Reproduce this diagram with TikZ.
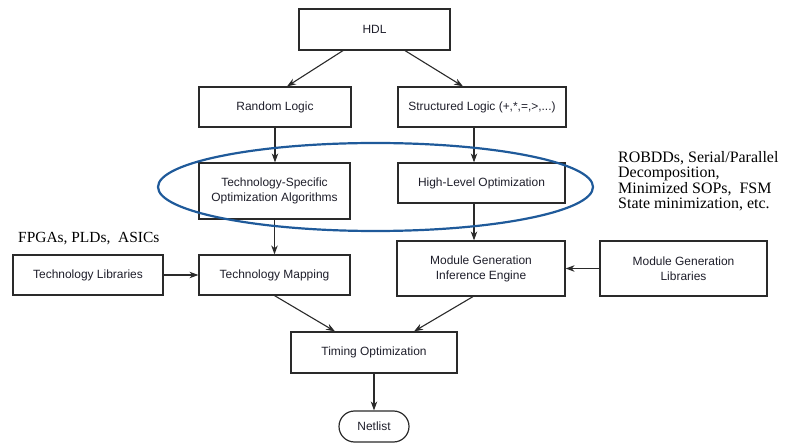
\documentclass[tikz,border=0pt]{standalone}
\usepackage{fontspec}
\setmainfont{Liberation Serif}
\setsansfont{Liberation Sans}
\usetikzlibrary{arrows.meta}
\definecolor{boxline}{HTML}{2A2A2A}
\definecolor{boxtext}{HTML}{1E1E2A}
\definecolor{ringblue}{HTML}{1F5A9A}
\tikzset{
  stage/.style={draw=boxline, line width=1.2bp, inner sep=2bp, align=center,
    text=boxtext, font=\sffamily\fontsize{12}{15}\selectfont},
  flow/.style={draw=boxline, line width=1.1bp, -{Stealth[length=9bp,width=6.5bp]}},
  note/.style={inner sep=0, align=left, text=black,
    font=\rmfamily\fontsize{15.5}{15.5}\selectfont},
  ring/.style={draw=ringblue, line width=2.2bp}
}
\begin{document}
\begin{tikzpicture}[x=1bp,y=-1bp]
\useasboundingbox (0,0) rectangle (785,443);

% processing stages
\node[stage, minimum width=151bp, minimum height=41bp] (hdl) at (374.5,29.5) {HDL};
\node[stage, minimum width=152bp, minimum height=40bp] (rand) at (275,107) {Random Logic};
\node[stage, minimum width=168bp, minimum height=40bp] (struct) at (482,107) {Structured Logic (+,*,=,>,...)};
\node[stage, minimum width=151bp, minimum height=56bp] (tso) at (274.5,191) {Technology-Specific\\Optimization Algorithms};
\node[stage, minimum width=167bp, minimum height=40bp] (hlo) at (481.5,183) {High-Level Optimization};
\node[stage, minimum width=150bp, minimum height=40bp] (tlib) at (88,275) {Technology Libraries};
\node[stage, minimum width=151bp, minimum height=40bp] (tmap) at (274.5,275) {Technology Mapping};
\node[stage, minimum width=168bp, minimum height=55bp] (mgie) at (481,268.5) {Module Generation\\Inference Engine};
\node[stage, minimum width=167bp, minimum height=55bp] (mgl) at (683.5,268.5) {Module Generation\\Libraries};
\node[stage, minimum width=166bp, minimum height=41bp] (timing) at (374,352.5) {Timing Optimization};
\node[stage, minimum width=70bp, minimum height=31bp, rounded corners=15.5bp] (netlist) at (374,426.5) {Netlist};

% connectors
\draw[flow] ([xshift=-31.5bp]hdl.south) -- ([xshift=12bp]rand.north);
\draw[flow] ([xshift=30.5bp]hdl.south) -- ([xshift=-19bp]struct.north);
\draw[flow] (rand.south) -- (rand.south |- tso.north);
\draw[flow] ([xshift=-8bp]struct.south) -- ([xshift=-8bp]struct.south |- hlo.north);
\draw[flow] (tso.south) -- (tso.south |- tmap.north);
\draw[flow] ([xshift=-7.5bp]hlo.south) -- ([xshift=-7.5bp]hlo.south |- mgie.north);
\draw[flow] (tlib.east) -- (tmap.west);
\draw[flow] (mgl.west) -- (mgie.east);
\draw[flow] (tmap.south) -- ([xshift=-39bp]timing.north);
\draw[flow] ([xshift=-8bp]mgie.south) -- ([xshift=40bp]timing.north);
\draw[flow] (timing.south) -- (netlist.north);

% grouping of the two optimization steps
\draw[ring] (375.5,187) ellipse [x radius=217.5, y radius=44];

% annotations
\node[note, anchor=base west] (fpga) at (18,243) {FPGAs, PLDs,\ \ ASICs};
\node[note, anchor=north west, font=\rmfamily\fontsize{16}{15.5}\selectfont] (robdd) at (618,151) {ROBDDs, Serial/Parallel\\Decomposition,\\Minimized SOPs,\ \ FSM\\State minimization, etc.};
\end{tikzpicture}
\end{document}
